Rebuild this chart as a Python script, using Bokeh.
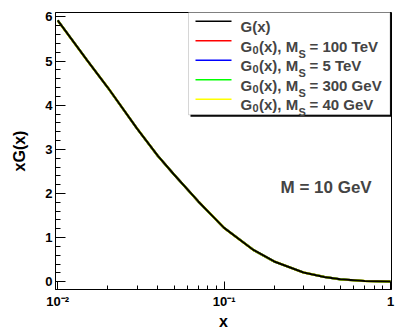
import math
from bokeh.plotting import figure
from bokeh.models import (Range1d, FixedTicker, SingleIntervalTicker, Label,
                          BoxAnnotation)
from bokeh.embed import file_html
from bokeh.resources import INLINE

# ---- data ----
x_vals = [0.01, 0.015, 0.02, 0.03, 0.04, 0.05, 0.07, 0.1, 0.15, 0.2, 0.3, 0.4, 0.5, 0.7, 1.0]
g_x = [5.92, 5.02, 4.40, 3.47, 2.85, 2.43, 1.82, 1.22, 0.72, 0.46, 0.21, 0.11, 0.055, 0.018, 0.005]
# the G0 curves lie exactly on top of G(x) in the picture
g0_100tev = list(g_x)
g0_5tev = list(g_x)
g0_300gev = list(g_x)
g0_40gev = list(g_x)

series_labels = ["G(x)", "100 TeV", "5 TeV", "300 GeV", "40 GeV"]
series_colors = ["black", "#ff0000", "#0000ff", "#00ff00", "#ffff00"]
annotation = "M = 10 GeV"

x_major = [0.01, 0.1, 1.0]
x_major_labels = {0.01: "10\u207b\u00b2", 0.1: "10\u207b\u00b9", 1.0: "1"}
x_minor = [m * d for d in (0.01, 0.1) for m in range(2, 10)]

FONT = "Liberation Sans"

p = figure(width=403, height=332, x_axis_type="log",
           x_range=Range1d(0.0097, 1.014), y_range=Range1d(-0.175, 6.1),
           output_backend="svg", toolbar_location=None,
           min_border_left=55, min_border_right=12, min_border_top=12,
           min_border_bottom=40)
p.grid.visible = False
p.background_fill_color = "white"
p.border_fill_color = "white"
p.outline_line_color = "black"
p.outline_line_width = 1

# curves: coloured ones first, black on top
for ys, c, w in [(g0_100tev, series_colors[1], 2.2), (g0_5tev, series_colors[2], 2.2),
                 (g0_300gev, series_colors[3], 2.2), (g0_40gev, series_colors[4], 2.4),
                 (g_x, series_colors[0], 2.0)]:
    p.line(x_vals, ys, line_color=c, line_width=w)

# axes
xa = p.xaxis[0]
xa.ticker = FixedTicker(ticks=x_major, minor_ticks=x_minor)
xa.major_label_overrides = x_major_labels
ya = p.yaxis[0]
ya.ticker = SingleIntervalTicker(interval=1, num_minor_ticks=5)
for ax in (xa, ya):
    ax.axis_line_color = "black"
    ax.major_tick_line_color = "black"
    ax.minor_tick_line_color = "black"
    ax.major_tick_out = 0
    ax.minor_tick_out = 0
    ax.major_label_text_font = FONT
    ax.major_label_text_font_style = "bold"
    ax.major_label_text_font_size = "13px"
    ax.major_label_text_color = "black"
    ax.axis_label_text_font = FONT
    ax.axis_label_text_font_style = "bold"
    ax.axis_label_text_font_size = "16px"
    ax.axis_label_text_color = "black"
xa.major_tick_in = 8
xa.minor_tick_in = 4
ya.major_tick_in = 10
ya.minor_tick_in = 5
xa.major_label_standoff = 4
ya.major_label_standoff = 3
xa.axis_label = "x"
ya.axis_label = "xG(x)"
xa.axis_label_standoff = 1
ya.axis_label_standoff = 14

# annotation
p.add_layout(Label(x=225, y=102, x_units="screen", y_units="screen", text=annotation,
                   text_font=FONT, text_font_style="bold", text_font_size="17px",
                   text_align="left", text_baseline="middle"))

# legend box with shadow
p.add_layout(BoxAnnotation(left=135, right=336.5, top=277, bottom=172.7,
                           left_units="screen", right_units="screen",
                           top_units="screen", bottom_units="screen",
                           fill_color="black", fill_alpha=1, line_alpha=0))
p.add_layout(BoxAnnotation(left=133, right=334.5, top=279, bottom=174.7,
                           left_units="screen", right_units="screen",
                           top_units="screen", bottom_units="screen",
                           fill_color="white", fill_alpha=1, line_color="#777777",
                           line_width=1))

row_y = [268.2, 248.7, 229.2, 209.7, 190.2]


def txt(x, y, s, size):
    p.add_layout(Label(x=x, y=y, x_units="screen", y_units="screen", text=s,
                       text_font=FONT, text_font_style="bold",
                       text_font_size=size, text_align="left",
                       text_baseline="alphabetic"))


for i, (lab, col) in enumerate(zip(series_labels, series_colors)):
    yc = row_y[i]
    p.add_layout(BoxAnnotation(left=140, right=176, top=yc + 0.8, bottom=yc - 0.8,
                               left_units="screen", right_units="screen",
                               top_units="screen", bottom_units="screen",
                               fill_color=col, fill_alpha=1, line_alpha=0))
    base = yc - 5.5
    x0 = 185
    if i == 0:
        txt(x0, base, lab, "15px")
    else:
        txt(x0, base, "G", "15px")
        txt(x0 + 12, base - 3.5, "0", "11px")
        txt(x0 + 18.5, base, "(x), M", "15px")
        txt(x0 + 58, base - 7.5, "S", "11px")
        txt(x0 + 69, base, "= " + lab, "15px")

open("out.html", "w").write(file_html(p, INLINE))
